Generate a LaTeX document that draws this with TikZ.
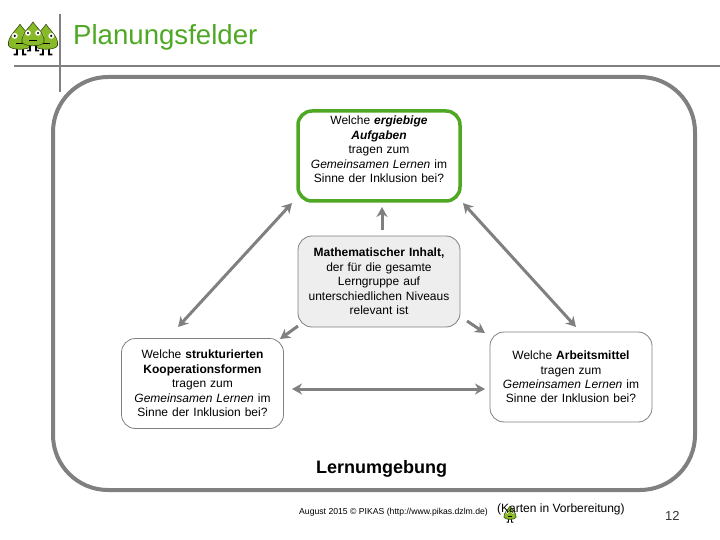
\documentclass[tikz,border=0pt]{standalone}
\usepackage{fontspec}
\setmainfont{Liberation Sans}
\usetikzlibrary{arrows.meta}
\definecolor{pgreen}{RGB}{78,168,36}
\definecolor{pgrey}{RGB}{128,128,128}
\definecolor{pfill}{RGB}{238,238,238}
\definecolor{tree}{RGB}{135,185,40}
\tikzset{
  x=1pt,y=-1pt,
  box/.style={draw=pgrey,line width=0.8pt,rounded corners=14pt,minimum width=162pt,align=center,inner sep=0pt,
     font=\fontsize{12}{14.4}\selectfont,text width=156pt},
  greenbox/.style={box,draw=pgreen,line width=3.5pt,minimum width=162pt,minimum height=90pt},
  greybox/.style={box,fill=pfill,minimum height=91pt},
  whitebox/.style={box,minimum height=90pt},
  conn/.style={draw=pgrey,line width=3pt,-{Stealth[length=10pt,width=11pt]}},
  connb/.style={draw=pgrey,line width=3pt,{Stealth[length=10pt,width=11pt]}-{Stealth[length=10pt,width=11pt]}},
  rule/.style={draw=pgrey,line width=2pt},
  label/.style={inner sep=0pt,anchor=base west},
  treeshape/.style={fill=tree,draw=black!60!tree,line width=0.6pt},
}
\newcommand{\logotree}[3]{% x, y, scale
  \begin{scope}[shift={(#1,#2)},scale=#3]
    \draw[black,line width=1.4pt] (-3,8) -- (-3,14) (3,8) -- (3,14);
    \fill[black] (-6,14) rectangle (-2,15.5) (2,14) rectangle (6,15.5);
    \path[treeshape] (0,-14) .. controls (4,-8) and (12,-2) .. (11,6) .. controls (10,11) and (-10,11) .. (-11,6) .. controls (-12,-2) and (-4,-8) .. (0,-14) -- cycle;
    \fill[white] (-5,-3) circle (2.8) (5,-3) circle (2.8);
    \fill[black] (-5,-3) circle (1.1) (5,-3) circle (1.1);
    \draw[black,line width=0.7pt] (-4,4) -- (4,4);
  \end{scope}}
\begin{document}
\begin{tikzpicture}
\useasboundingbox (0,0) rectangle (720,540);
% header rules
\coordinate (hl) at (14,66); \coordinate (hr) at (720,66);
\coordinate (vt) at (60,14); \coordinate (vb) at (60,92);
\draw[rule] (hl) -- (hr);
\draw[rule] (vt) -- (vb);
% logo
\logotree{20}{39}{1.05}
\logotree{46}{39}{1.05}
\logotree{33}{36}{1.0}
% title
\node[label,text=pgreen,font=\fontsize{27.6}{30}\selectfont] (title) at (73,45) {Planungsfelder};
% outer frame
\draw[draw=pgrey,line width=4pt,rounded corners=55pt] (53,77) rectangle (695,490);
% boxes
\node[greenbox] (aufg) at (379,156) {};
\node[box,draw=none] (aufgt) at (379,149.5) {Welche \textbf{\textit{ergiebige}}\\\textbf{\textit{Aufgaben}}\\tragen zum\\\textit{Gemeinsamen Lernen} im\\Sinne der Inklusion bei?};
\node[greybox] (inh) at (379,281.5) {\textbf{Mathematischer Inhalt,}\\der für die gesamte\\Lerngruppe auf\\unterschiedlichen Niveaus\\relevant ist};
\node[whitebox] (koop) at (202.5,383.5) {Welche \textbf{strukturierten}\\\textbf{Kooperationsformen}\\tragen zum\\\textit{Gemeinsamen Lernen} im\\Sinne der Inklusion bei?};
\node[whitebox] (arb) at (571,377) {Welche \textbf{Arbeitsmittel}\\tragen zum\\\textit{Gemeinsamen Lernen} im\\Sinne der Inklusion bei?};
% connectors
\coordinate (a1) at (382,230); \coordinate (a2) at (382,207);
\draw[conn] (a1) -- (a2);
\coordinate (l1) at (178,327); \coordinate (l2) at (292,203);
\draw[connb] (l1) -- (l2);
\coordinate (r1) at (463,203); \coordinate (r2) at (576,327);
\draw[connb] (r1) -- (r2);
\coordinate (s1) at (298,326); \coordinate (s2) at (280,339);
\draw[conn] (s1) -- (s2);
\coordinate (t1) at (467,321); \coordinate (t2) at (485,333);
\draw[conn] (t1) -- (t2);
\coordinate (h1) at (292,389); \coordinate (h2) at (485,389);
\draw[connb] (h1) -- (h2);
% labels
\node[label,font=\bfseries\fontsize{18}{20}\selectfont] (lern) at (316,473) {Lernumgebung};
\node[label,font=\fontsize{8.65}{10}\selectfont] (foot) at (299,514) {August 2015 © PIKAS (http://www.pikas.dzlm.de)};
\logotree{510}{514}{0.55}
\node[label,font=\fontsize{12}{14}\selectfont] (karten) at (497,512) {(Karten in Vorbereitung)};
\node[label,font=\fontsize{13}{15}\selectfont,text=black!80] (num) at (665,520) {12};
\end{tikzpicture}
\end{document}
